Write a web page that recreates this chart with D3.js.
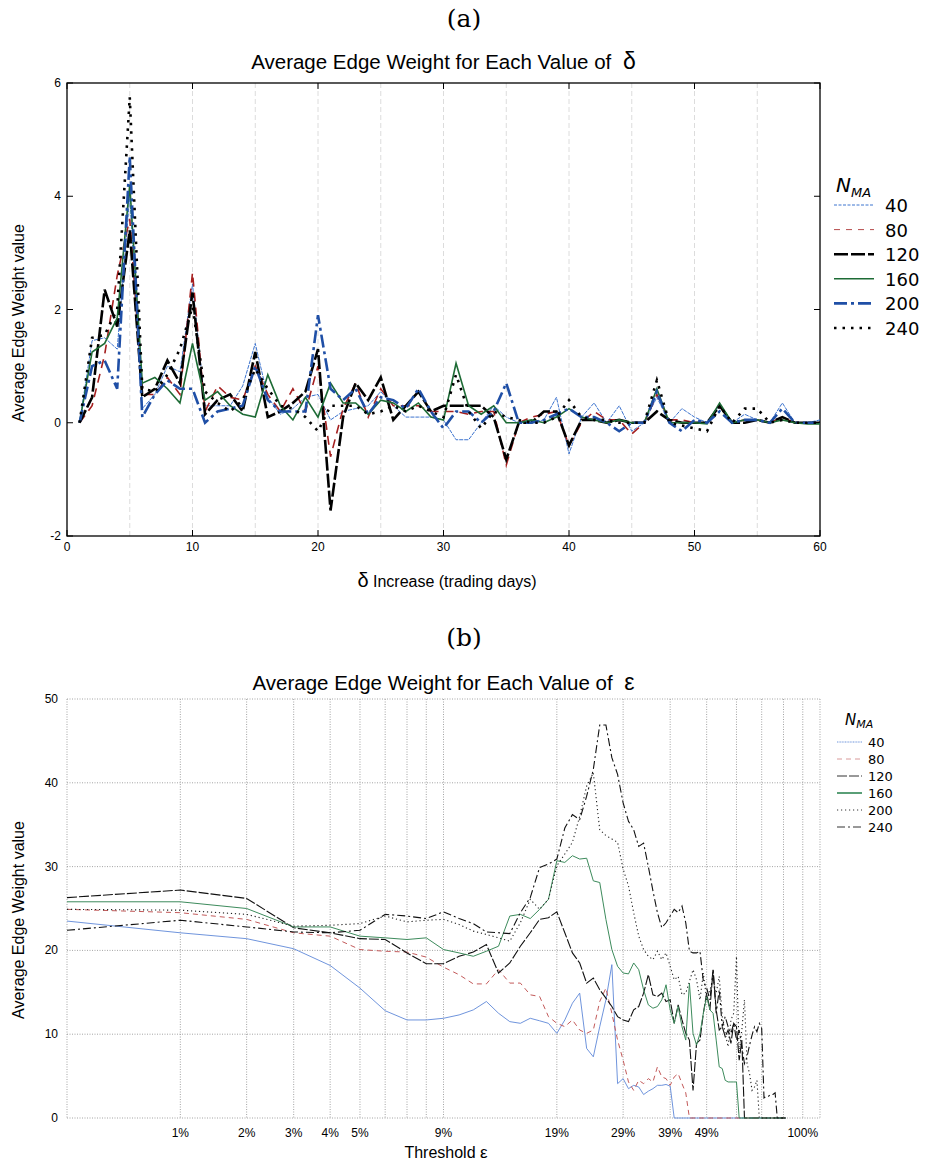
<!DOCTYPE html>
<html>
<head>
<meta charset="utf-8">
<script src="https://cdn.jsdelivr.net/npm/d3@7"></script>
<style>
  body { margin: 0; background: #fff; }
  svg { display: block; }
  .tick-label { font-family: "Liberation Sans Narrow", "Liberation Sans", Arial, sans-serif; font-size: 12px; fill: #000; }
  .title { font-family: "Liberation Sans", Arial, sans-serif; font-size: 20.5px; fill: #000; }
  .axis-label { font-family: "Liberation Sans", Arial, sans-serif; font-size: 16px; fill: #000; }
  .panel { font-family: "DejaVu Serif", "Liberation Serif", serif; font-size: 25px; fill: #000; }
  .legend { font-family: "DejaVu Sans", sans-serif; fill: #000; }
</style>
</head>
<body>
<svg id="chart" width="926" height="1163"></svg>
<script>
// ---- data ----

// (a) delta = 1..60 trading days
const days = d3.range(1, 61);
const nmaLabels = ["40", "80", "120", "160", "200", "240"];

const delta40 = [0, 1.45, 1.5, 1.3, 4.0, 0.25, 0.5, 1.0, 0.9, 2.45,
  0.3, 0.3, 0.3, 0.65, 1.4, 0.45, 0.15, 0.25, 0.45, 0.5,
  0.05, 0.2, 0.25, 0.3, 0.55, 0.3, 0.1, 0.1, 0.1, 0.05,
  -0.3, -0.3, 0, 0.3, 0.1, 0, 0, 0.05, 0.45, -0.55,
  0.1, 0.35, 0, 0.3, -0.15, 0, 0.45, 0, 0.25, 0.1,
  0, 0.3, 0, 0.15, 0.05, 0, 0.35, 0, 0, 0.05];
const delta80 = [0, 0.3, 1.2, 2.6, 3.6, 0.5, 0.5, 0.8, 0.5, 2.65,
  0.2, 0.65, 0.45, 0.4, 1.0, 0.5, 0.2, 0.6, 0.2, 1.0,
  -0.6, 0.25, 0.7, 0.1, 0.6, 0.3, 0.3, 0.3, 0.2, 0.2,
  0.2, 0.15, 0.2, 0.2, -0.75, 0, 0.1, 0.15, 0.2, -0.4,
  0, 0.2, 0.05, 0.05, -0.2, 0, 0.5, 0.05, 0.05, 0,
  0, 0.3, 0, 0.05, 0.05, 0, 0.1, 0, 0, 0];
const delta120 = [0, 0.45, 2.35, 1.7, 3.4, 0.45, 0.6, 1.1, 0.7, 2.3,
  0.15, 0.4, 0.5, 0.2, 1.25, 0.1, 0.2, 0.35, 0.55, 1.3,
  -1.55, 0.1, 0.7, 0.4, 0.8, 0.05, 0.3, 0.55, 0.2, 0.3,
  0.3, 0.3, 0.3, 0.1, -0.65, 0, 0, 0.2, 0.2, -0.4,
  0.05, 0.05, 0, 0.05, 0, 0, 0.2, 0.05, 0, 0,
  0, 0.3, 0, 0, 0.05, 0, 0.1, 0, 0, 0];
const delta160 = [0, 1.25, 1.4, 1.85, 4.2, 0.7, 0.8, 0.6, 0.35, 1.4,
  0.4, 0.55, 0.3, 0.15, 0.1, 0.85, 0.3, 0.05, 0.45, 0.1,
  0.7, 0.35, 0.35, 0.15, 0.4, 0.35, 0.2, 0.35, 0.1, 0.05,
  1.05, 0.3, 0.15, 0.3, 0, 0, 0.05, 0, 0.1, 0.25,
  0.1, 0.05, 0, 0.05, 0, 0, 0.6, 0, 0, 0,
  -0.02, 0.35, 0, 0.05, 0.05, 0, 0.05, 0, -0.02, -0.02];
const delta200 = [0, 1.0, 1.1, 0.6, 4.7, 0.1, 0.5, 0.75, 0.6, 0.6,
  0, 0.2, 0.25, 0.3, 1.0, 0.4, 0.2, 0.2, 0.2, 1.9,
  0.6, 0.4, 0.6, 0.15, 0.45, 0.4, 0.25, 0.6, 0.2, -0.1,
  0.2, 0.2, 0, 0.2, 0.7, 0, 0, 0.05, 0.15, 0.25,
  0.1, 0.1, 0, -0.15, 0, 0, 0.55, 0, -0.15, 0.05,
  0, 0.2, 0, 0.05, 0.05, 0, 0.25, 0, 0, 0];
const delta240 = [0, 1.5, 1.55, 2.0, 5.75, 0.6, 0.55, 0.85, 1.3, 2.05,
  0.55, 0.35, 0.2, 0.4, 0.95, 0.6, 0.3, 0.25, 0.1, -0.15,
  0.3, 0.3, 0.3, 0.15, 0.2, 0.3, 0.2, 0.3, 0.2, 0.1,
  0.85, 0.2, -0.1, 0.2, 0.1, 0.05, 0, 0, 0.1, 0.4,
  0.1, 0.05, 0.05, 0, 0, 0, 0.75, 0, -0.05, -0.1,
  -0.15, 0.3, 0, 0.25, 0.25, 0, 0.05, 0, 0, 0];

const xTicksA = [0, 10, 20, 30, 40, 50, 60];
const yTicksA = [-2, 0, 2, 4, 6];
const gridA = [5, 10, 15, 20, 25, 30, 35, 40, 45, 50, 55];

// (b) threshold epsilon = 0..80 %
const thresholds = d3.range(0, 81);

const eps40 = [23.5, 22.1, 21.4, 20.2, 18.2, 15.5, 12.8, 11.7, 11.7, 11.9,
  12.3, 12.9, 13.9, 12.5, 11.5, 11.3, 11.9, 11.6, 11.3, 10.1,
  11.7, 13.7, 14.9, 8.3, 7.3, 10.9, 14.1, 18.3, 4.1, 4.7,
  3.5, 3.9, 3.7, 2.8, 3.2, 3.5, 3.9, 3.9, 4.0, 3.8,
  0, 0, 0, 0, 0, 0, 0, 0, 0, 0,
  0, 0, 0, 0, 0, 0, 0, 0, 0, 0,
  0, 0, 0, 0, 0, 0, 0, 0, 0, 0,
  0, 0, 0, 0, 0, 0, 0, 0, 0, 0, 0];
const eps80 = [24.9, 24.5, 23.7, 22.1, 21.7, 20.1, 19.9, 19.8, 19.2, 18.0,
  17.1, 16.0, 16.0, 17.7, 16.1, 16.1, 14.7, 14.5, 12.1, 11.3,
  10.9, 11.7, 10.5, 10.1, 10.5, 13.9, 15.5, 12.5, 9.3, 6.9,
  4.3, 3.3, 4.5, 4.1, 4.7, 4.3, 6.1, 4.9, 4.7, 3.9,
  4.9, 5.3, 4.1, 3.0, 0, 0, 0, 0, 0, 0,
  0, 0, 0, 0, 0, 0, 0, 0, 0, 0,
  0, 0, 0, 0, 0, 0, 0, 0, 0, 0,
  0, 0, 0, 0, 0, 0, 0, 0, 0, 0, 0];
const eps120 = [26.3, 27.2, 26.2, 22.7, 22.1, 21.4, 21.3, 19.7, 18.4, 18.4,
  19.3, 19.8, 20.7, 17.3, 18.5, 20.5, 22.1, 23.7, 23.9, 24.6,
  22.1, 19.7, 18.5, 16.1, 16.7, 15.3, 14.3, 13.3, 12.1, 11.7,
  11.5, 12.9, 13.3, 14.9, 17.1, 14.7, 14.5, 14.9, 13.9, 14.1,
  11.3, 13.5, 11.7, 10.1, 9.3, 3.3, 8.9, 9.3, 12.5, 14.9,
  12.9, 17.7, 12.9, 10.5, 10.9, 9.7, 10.5, 8.9, 11.3, 10.9,
  6.9, 9.3, 0, 0, 0, 0, 0, 0, 0, 0,
  0, 0, 0, 0, 0, 0, 0, 0, 0, 0, 0];
const eps160 = [25.8, 25.8, 25.0, 22.8, 22.8, 21.7, 21.5, 21.3, 21.5, 20.1,
  19.7, 19.3, 19.9, 20.5, 24.1, 24.3, 23.8, 24.9, 26.1, 30.7,
  30.5, 31.3, 30.9, 31.0, 28.3, 28.1, 23.7, 20.1, 18.1, 17.3,
  17.2, 18.5, 17.7, 15.3, 13.5, 13.1, 13.3, 14.1, 15.9, 12.9,
  11.3, 13.3, 10.9, 9.3, 16.1, 10.1, 8.7, 10.1, 12.5, 14.5,
  12.9, 12.5, 9.3, 6.1, 5.9, 4.5, 4.3, 4.3, 4.3, 4.3,
  0, 0, 0, 0, 0, 0, 0, 0, 0, 0,
  0, 0, 0, 0, 0, 0, 0, 0, 0, 0, 0];
const eps200 = [24.9, 24.8, 24.3, 22.9, 23.0, 23.2, 24.1, 23.4, 23.6, 23.7,
  23.1, 22.3, 21.9, 21.5, 21.1, 23.3, 26.1, 24.9, 26.1, 30.1,
  31.5, 32.9, 36.0, 39.6, 41.2, 34.4, 33.7, 33.3, 32.9, 29.7,
  27.7, 24.5, 21.7, 20.1, 19.3, 18.9, 19.9, 18.9, 19.7, 18.1,
  16.5, 16.9, 14.7, 14.9, 16.3, 17.7, 16.5, 14.1, 17.3, 14.1,
  15.3, 16.5, 14.9, 16.9, 12.1, 10.1, 8.5, 11.7, 12.5, 19.3,
  7.7, 10.5, 14.1, 6.5, 5.3, 3.3, 3.7, 4.5, 0, 0,
  0, 0, 0, 0, 0, 0, 0, 0, 0, 0, 0];
const eps240 = [22.4, 23.6, 22.8, 22.2, 22.1, 22.4, 24.3, 24.1, 23.8, 24.6,
  23.8, 23.2, 22.2, 22.1, 22.0, 24.5, 26.3, 29.9, 30.3, 30.9,
  34.6, 36.2, 35.6, 38.4, 41.6, 46.9, 46.9, 43.0, 41.0, 37.6,
  35.4, 34.4, 32.4, 32.8, 30.0, 27.1, 24.5, 22.7, 23.3, 24.1,
  24.9, 24.5, 25.3, 23.3, 19.9, 19.7, 19.7, 19.9, 16.3, 15.5,
  14.1, 17.7, 12.5, 15.3, 10.9, 12.1, 10.9, 10.1, 11.3, 9.3,
  10.5, 8.5, 6.5, 7.3, 8.7, 9.9, 10.9, 10.3, 11.3, 10.7,
  2.4, 2.6, 2.6, 2.8, 2.8, 3.0, 0, 0, 0, 0, 0];

const yTicksB = [0, 10, 20, 30, 40, 50];
const gridB = [1, 2, 3, 4, 5, 6, 7, 8, 9, 19, 29, 39, 49, 59, 69, 79, 89];
const xTickValuesB = [1, 2, 3, 4, 5, 9, 19, 29, 39, 49, 89];
const xTickLabelsB = ["1%", "2%", "3%", "4%", "5%", "9%", "19%", "29%", "39%", "49%", "100%"];

// ---- styles per series ----
const stylesA = [
  { color: "#3d74cf", width: 1, dash: "4,1" },
  { color: "#a51f1f", width: 1.6, dash: "9,6" },
  { color: "#000000", width: 2.6, dash: "14,3" },
  { color: "#1d6b35", width: 1.6, dash: null },
  { color: "#1f4fa6", width: 2.6, dash: "13,4,3,4" },
  { color: "#000000", width: 2.6, dash: "2.5,6" }
];
const legendStrokeA = ["#3d74cf", "#b54a4a", "#000", "#1d6b35", "#1f4fa6", "#000"];
const stylesB = [
  { color: "#5f88d8", width: 0.9, dash: null },
  { color: "#c35a5a", width: 1, dash: "5,4" },
  { color: "#111111", width: 1.1, dash: "10,2" },
  { color: "#3d8b5c", width: 1, dash: null },
  { color: "#222222", width: 1.1, dash: "1.2,2.8" },
  { color: "#111111", width: 1.1, dash: "8,3,2,3" }
];
const legendStrokeB = ["#6f95db", "#d99a9a", "#333", "#006b2e", "#333", "#333"];

const svg = d3.select("#chart");

// ================= panel (a) =================
const A = { left: 67, right: 820, top: 83, bottom: 536 };
const xA = d3.scaleLinear().domain([0, 60]).range([A.left, A.right]);
const yA = d3.scaleLinear().domain([-2, 6]).range([A.bottom, A.top]);

svg.append("text").attr("class", "panel")
  .attr("x", 464).attr("y", 27).attr("text-anchor", "middle").text("(a)");

const titleA = svg.append("text").attr("class", "title")
  .attr("x", (A.left + A.right) / 2).attr("y", 69).attr("text-anchor", "middle");
titleA.append("tspan").text("Average Edge Weight for Each Value of ");
titleA.append("tspan").attr("dx", 6).attr("font-size", 23).text("δ");

// gridlines
svg.append("g").selectAll("line").data(gridA).enter().append("line")
  .attr("x1", d => xA(d)).attr("x2", d => xA(d))
  .attr("y1", A.top).attr("y2", A.bottom)
  .attr("stroke", "#dcdcdc").attr("stroke-width", 1).attr("stroke-dasharray", "5,3");

// frame
svg.append("rect")
  .attr("x", A.left).attr("y", A.top)
  .attr("width", A.right - A.left).attr("height", A.bottom - A.top)
  .attr("fill", "none").attr("stroke", "#000").attr("stroke-width", 1.3);

// ticks inward
const ticksA = svg.append("g").attr("stroke", "#000").attr("stroke-width", 1);
xTicksA.forEach(t => {
  ticksA.append("line").attr("x1", xA(t)).attr("x2", xA(t)).attr("y1", A.bottom).attr("y2", A.bottom - 6);
  ticksA.append("line").attr("x1", xA(t)).attr("x2", xA(t)).attr("y1", A.top).attr("y2", A.top + 6);
});
yTicksA.forEach(t => {
  ticksA.append("line").attr("x1", A.left).attr("x2", A.left + 6).attr("y1", yA(t)).attr("y2", yA(t));
  ticksA.append("line").attr("x1", A.right).attr("x2", A.right - 6).attr("y1", yA(t)).attr("y2", yA(t));
});

svg.append("g").selectAll("text").data(xTicksA).enter().append("text")
  .attr("class", "tick-label")
  .attr("x", d => xA(d)).attr("y", A.bottom + 15).attr("text-anchor", "middle")
  .text(d => d);
svg.append("g").selectAll("text").data(yTicksA).enter().append("text")
  .attr("class", "tick-label")
  .attr("x", A.left - 6).attr("y", d => yA(d) + 4).attr("text-anchor", "end")
  .text(d => d);

// lines
const seriesA = [delta40, delta80, delta120, delta160, delta200, delta240];
const lineA = d3.line().x((d, i) => xA(days[i])).y(d => yA(d));
seriesA.forEach((s, k) => {
  svg.append("path").datum(s)
    .attr("d", lineA)
    .attr("fill", "none")
    .attr("stroke", stylesA[k].color)
    .attr("stroke-width", stylesA[k].width)
    .attr("stroke-dasharray", stylesA[k].dash)
    .attr("stroke-linejoin", "miter");
});

// axis labels
const xLabA = svg.append("text").attr("class", "axis-label")
  .attr("x", 447).attr("y", 587).attr("text-anchor", "middle");
xLabA.append("tspan").attr("font-size", 20).text("δ");
xLabA.append("tspan").text(" Increase (trading days)");

svg.append("text").attr("class", "axis-label")
  .attr("transform", "translate(24," + 323 + ") rotate(-90)")
  .attr("text-anchor", "middle").text("Average Edge Weight value");

// legend (a)
const legA = svg.append("g").attr("class", "legend");
const nA = legA.append("text").attr("x", 836).attr("y", 192).attr("font-size", 20);
nA.append("tspan").attr("font-style", "italic").text("N");
nA.append("tspan").attr("font-style", "italic").attr("font-size", 13).attr("dy", 5).text("MA");
nmaLabels.forEach((lab, k) => {
  const y = 205 + k * 24.6;
  legA.append("line").attr("x1", 834).attr("x2", 874).attr("y1", y).attr("y2", y)
    .attr("stroke", legendStrokeA[k])
    .attr("stroke-width", k < 2 ? 1 : stylesA[k].width)
    .attr("stroke-dasharray", k === 0 ? "3,1.5" : (k === 1 ? "6,6" : stylesA[k].dash));
  legA.append("text").attr("x", 885).attr("y", y + 7).attr("font-size", 18).text(lab);
});

// ================= panel (b) =================
const B = { left: 67, right: 820, top: 699, bottom: 1118 };
// log axis on (threshold + 1)
const xBlog = d3.scaleLog().domain([1, 100]).range([B.left, B.right]);
const xB = t => xBlog(t + 1);
const yB = d3.scaleLinear().domain([0, 50]).range([B.bottom, B.top]);

svg.append("text").attr("class", "panel")
  .attr("x", 464).attr("y", 646).attr("text-anchor", "middle").text("(b)");

const titleB = svg.append("text").attr("class", "title")
  .attr("x", (B.left + B.right) / 2).attr("y", 690).attr("text-anchor", "middle");
titleB.append("tspan").text("Average Edge Weight for Each Value of ");
titleB.append("tspan").attr("dx", 6).attr("font-size", 23).text("ε");

// dotted grid
const gB = svg.append("g").attr("stroke", "#9a9a9a").attr("stroke-width", 0.9).attr("stroke-dasharray", "1,1.5");
gridB.forEach(t => {
  gB.append("line").attr("x1", xB(t)).attr("x2", xB(t)).attr("y1", B.top).attr("y2", B.bottom);
});
yTicksB.forEach(t => {
  gB.append("line").attr("x1", B.left).attr("x2", B.right).attr("y1", yB(t)).attr("y2", yB(t));
});
gB.append("line").attr("x1", B.left).attr("x2", B.left).attr("y1", B.top).attr("y2", B.bottom);
gB.append("line").attr("x1", B.right).attr("x2", B.right).attr("y1", B.top).attr("y2", B.bottom);

svg.append("g").selectAll("text").data(yTicksB).enter().append("text")
  .attr("class", "tick-label")
  .attr("x", B.left - 9).attr("y", d => yB(d) + 4).attr("text-anchor", "end")
  .text(d => d);
svg.append("g").selectAll("text").data(xTickValuesB).enter().append("text")
  .attr("class", "tick-label")
  .attr("x", d => xB(d)).attr("y", B.bottom + 19).attr("text-anchor", "middle")
  .text((d, i) => xTickLabelsB[i]);

const seriesB = [eps40, eps80, eps120, eps160, eps200, eps240];
const lineB = d3.line().x((d, i) => xB(thresholds[i])).y(d => yB(d));
seriesB.forEach((s, k) => {
  svg.append("path").datum(s)
    .attr("d", lineB)
    .attr("fill", "none")
    .attr("stroke", stylesB[k].color)
    .attr("stroke-width", stylesB[k].width)
    .attr("stroke-dasharray", stylesB[k].dash);
});

const xLabB = svg.append("text").attr("class", "axis-label")
  .attr("x", 446).attr("y", 1158).attr("text-anchor", "middle");
xLabB.append("tspan").text("Threshold ");
xLabB.append("tspan").attr("font-size", 17).text("ε");

svg.append("text").attr("class", "axis-label")
  .attr("transform", "translate(24," + 920 + ") rotate(-90)")
  .attr("text-anchor", "middle").text("Average Edge Weight value");

// legend (b)
const legB = svg.append("g").attr("class", "legend");
const nB = legB.append("text").attr("x", 845).attr("y", 725).attr("font-size", 15);
nB.append("tspan").attr("font-style", "italic").text("N");
nB.append("tspan").attr("font-style", "italic").attr("font-size", 11).attr("dy", 3).text("MA");
nmaLabels.forEach((lab, k) => {
  const y = 742 + k * 17;
  legB.append("line").attr("x1", 837).attr("x2", 862).attr("y1", y).attr("y2", y)
    .attr("stroke", legendStrokeB[k])
    .attr("stroke-width", k === 3 ? 1.3 : 1)
    .attr("stroke-dasharray", k === 0 ? "1,0.6" : stylesB[k].dash);
  legB.append("text").attr("x", 868).attr("y", y + 5).attr("font-size", 13).text(lab);
});
</script>
</body>
</html>
